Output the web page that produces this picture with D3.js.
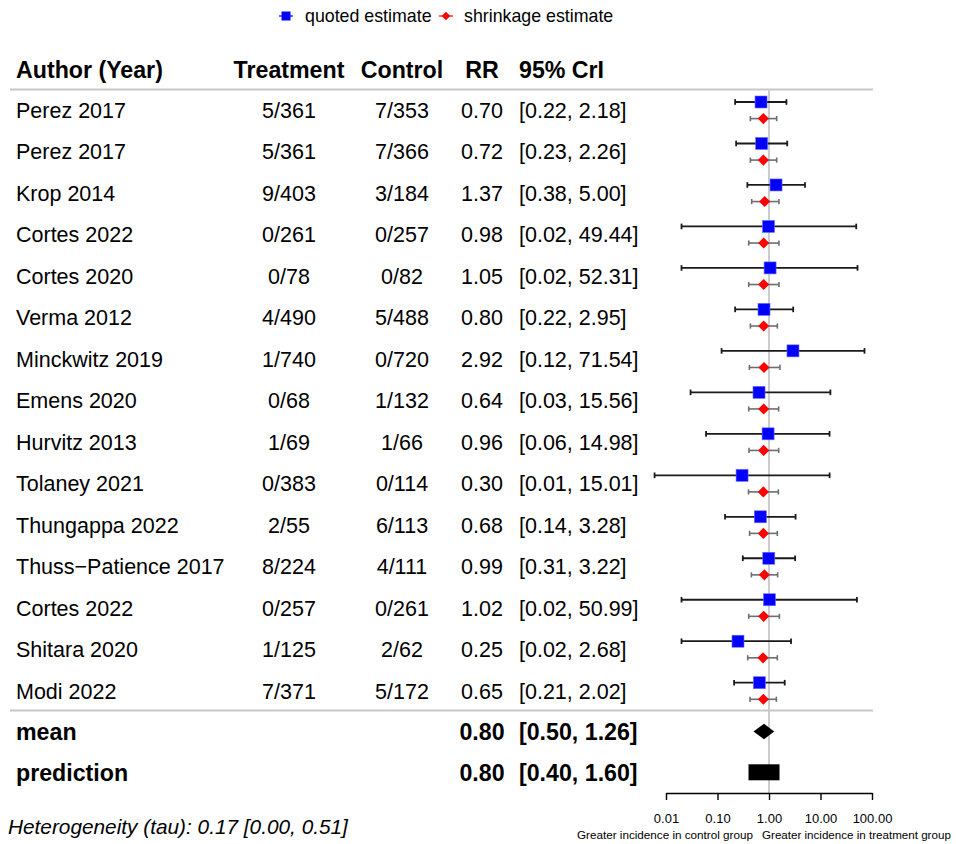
<!DOCTYPE html>
<html>
<head>
<meta charset="utf-8">
<script src="https://cdn.jsdelivr.net/npm/d3@7"></script>
<style>
	body { margin: 0; background: #fff; }
	svg text { font-family: "Liberation Sans", Arial, Helvetica, sans-serif; fill: #000; }
</style>
</head>
<body>
<div id="chart"></div>
<script>
//study level data
var authors = ["Perez 2017", "Perez 2017", "Krop 2014", "Cortes 2022", "Cortes 2020", "Verma 2012",
	"Minckwitz 2019", "Emens 2020", "Hurvitz 2013", "Tolaney 2021", "Thungappa 2022",
	"Thuss\u2212Patience 2017", "Cortes 2022", "Shitara 2020", "Modi 2022"];
var treatment = ["5/361", "5/361", "9/403", "0/261", "0/78", "4/490", "1/740", "0/68", "1/69",
	"0/383", "2/55", "8/224", "0/257", "1/125", "7/371"];
var control = ["7/353", "7/366", "3/184", "0/257", "0/82", "5/488", "0/720", "1/132", "1/66",
	"0/114", "6/113", "4/111", "0/261", "2/62", "5/172"];

//quoted estimate (blue)
var quotedRR = [0.70, 0.72, 1.37, 0.98, 1.05, 0.80, 2.92, 0.64, 0.96, 0.30, 0.68, 0.99, 1.02, 0.25, 0.65];
var quotedLo = [0.22, 0.23, 0.38, 0.02, 0.02, 0.22, 0.12, 0.03, 0.06, 0.006, 0.14, 0.31, 0.02, 0.02, 0.21];
var quotedHi = [2.18, 2.26, 5.00, 49.44, 52.31, 2.95, 71.54, 15.56, 14.98, 15.01, 3.28, 3.22, 50.99, 2.68, 2.02];

//shrinkage estimate (red)
var shrinkRR = [0.777, 0.777, 0.824, 0.788, 0.788, 0.788, 0.80, 0.788, 0.788, 0.777, 0.777, 0.812, 0.788, 0.765, 0.777];
var shrinkLo = [0.435, 0.435, 0.461, 0.404, 0.404, 0.435, 0.416, 0.404, 0.41, 0.40, 0.42, 0.455, 0.404, 0.386, 0.428];
var shrinkHi = [1.41, 1.41, 1.56, 1.56, 1.56, 1.45, 1.63, 1.54, 1.54, 1.52, 1.45, 1.47, 1.59, 1.45, 1.39];

//pooled rows
var summaryLabels = ["mean", "prediction"];
var summaryRR = [0.80, 0.80];
var summaryLo = [0.50, 0.40];
var summaryHi = [1.26, 1.60];

var tau = [0.17, 0.00, 0.51];

var headers = ["Author (Year)", "Treatment", "Control", "RR", "95% CrI"];
var tickValues = [0.01, 0.1, 1, 10, 100];
var captions = ["Greater incidence in control group", "Greater incidence in treatment group"];

//set globals
var width = 956,
	height = 844,
	fs = 21.5,
	fb = 23.2,
	f2 = d3.format(".2f");

var svg = d3.select("#chart").append("svg")
	.attr("width", width)
	.attr("height", height);

//scales
var x = d3.scaleLog().domain([0.01, 100]).range([666, 872]);
var y = d3.scaleLinear().domain([0, 14]).range([110.3, 691]);

//column positions
var col = {author: 16, treat: 289, ctrl: 402, rr: 482, ci: 519};

//header
var hy = 78;
svg.append("g").selectAll("text")
	.data(headers)
	.enter()
	.append("text")
	.attr("x", function(d, i){ return [col.author, col.treat, col.ctrl, col.rr, col.ci][i]; })
	.attr("y", hy)
	.attr("text-anchor", function(d, i){ return (i == 0 || i == 4) ? "start" : "middle"; })
	.style("font-size", fb + "px")
	.style("font-weight", "bold")
	.text(function(d){ return d; });

//rules
svg.append("line")
	.attr("x1", 10).attr("x2", 873)
	.attr("y1", y(-0.5)).attr("y2", y(-0.5))
	.attr("stroke", "#c8c8c8").attr("stroke-width", 2);
svg.append("line")
	.attr("x1", 10).attr("x2", 873)
	.attr("y1", 710.5).attr("y2", 710.5)
	.attr("stroke", "#c8c8c8").attr("stroke-width", 2);

//reference line at RR = 1
svg.append("line")
	.attr("x1", x(1)).attr("x2", x(1))
	.attr("y1", y(-0.5)).attr("y2", 793)
	.attr("stroke", "#cccccc").attr("stroke-width", 2);

//study rows text
var rows = svg.append("g").selectAll("g")
	.data(authors)
	.enter()
	.append("g")
	.attr("transform", function(d, i){ return "translate(0," + (y(i) + 7.7) + ")"; })
	.style("font-size", fs + "px");

rows.append("text").attr("x", col.author).text(function(d){ return d; });
rows.append("text").attr("x", col.treat).attr("text-anchor", "middle")
	.text(function(d, i){ return treatment[i]; });
rows.append("text").attr("x", col.ctrl).attr("text-anchor", "middle")
	.text(function(d, i){ return control[i]; });
rows.append("text").attr("x", col.rr).attr("text-anchor", "middle")
	.text(function(d, i){ return f2(quotedRR[i]); });
rows.append("text").attr("x", col.ci)
	.text(function(d, i){ return "[" + f2(quotedLo[i]) + ", " + f2(quotedHi[i]) + "]"; });

//error bar helper
function errorBars(g, lo, hi, yOff, color, cap, sw){
	g.append("line")
		.attr("x1", function(d, i){ return x(lo[i]); })
		.attr("x2", function(d, i){ return x(hi[i]); })
		.attr("y1", function(d, i){ return y(i) + yOff; })
		.attr("y2", function(d, i){ return y(i) + yOff; })
		.attr("stroke", color).attr("stroke-width", sw);
	[lo, hi].forEach(function(arr){
		g.append("line")
			.attr("x1", function(d, i){ return x(arr[i]); })
			.attr("x2", function(d, i){ return x(arr[i]); })
			.attr("y1", function(d, i){ return y(i) + yOff - cap; })
			.attr("y2", function(d, i){ return y(i) + yOff + cap; })
			.attr("stroke", color).attr("stroke-width", sw);
	});
}

var marks = svg.append("g").selectAll("g")
	.data(authors)
	.enter()
	.append("g");

//quoted: black whiskers and blue squares
errorBars(marks, quotedLo, quotedHi, -8.3, "#1a1a1a", 2.8, 1.8);
marks.append("rect")
	.attr("x", function(d, i){ return x(quotedRR[i]) - 6; })
	.attr("y", function(d, i){ return y(i) - 8.3 - 6; })
	.attr("width", 12).attr("height", 12)
	.attr("fill", "#0000ff")
	.attr("stroke", "#6b6bff").attr("stroke-width", 0.6);

//shrinkage: grey whiskers and red diamonds
errorBars(marks, shrinkLo, shrinkHi, 8.3, "#6e6e6e", 2.6, 1.6);
var diamond = d3.symbol().type(d3.symbolSquare).size(62);
marks.append("path")
	.attr("d", diamond)
	.attr("transform", function(d, i){ return "translate(" + x(shrinkRR[i]) + "," + (y(i) + 8.3) + ") rotate(45)"; })
	.attr("fill", "#ff0000");

//summary rows
var sy = [731.5, 772.3];
var summ = svg.append("g").selectAll("g")
	.data(summaryLabels)
	.enter()
	.append("g")
	.attr("transform", function(d, i){ return "translate(0," + (sy[i] + 8.2) + ")"; })
	.style("font-size", fb + "px")
	.style("font-weight", "bold");
summ.append("text").attr("x", col.author).text(function(d){ return d; });
summ.append("text").attr("x", col.rr).attr("text-anchor", "middle")
	.text(function(d, i){ return f2(summaryRR[i]); });
summ.append("text").attr("x", col.ci)
	.text(function(d, i){ return "[" + f2(summaryLo[i]) + ", " + f2(summaryHi[i]) + "]"; });

//mean diamond
svg.append("path")
	.attr("d", "M" + x(summaryLo[0]) + "," + sy[0] +
		"L" + x(summaryRR[0]) + "," + (sy[0] - 7.8) +
		"L" + x(summaryHi[0]) + "," + sy[0] +
		"L" + x(summaryRR[0]) + "," + (sy[0] + 7.8) + "Z")
	.attr("fill", "#000");

//prediction interval box
svg.append("rect")
	.attr("x", x(summaryLo[1]))
	.attr("y", sy[1] - 8)
	.attr("width", x(summaryHi[1]) - x(summaryLo[1]))
	.attr("height", 16)
	.attr("fill", "#000");

//x axis
var axis = svg.append("g")
	.attr("transform", "translate(0,793)")
	.call(d3.axisBottom(x)
		.tickValues(tickValues)
		.tickFormat(f2)
		.tickSize(7)
		.tickSizeOuter(0)
		.tickPadding(13.5));
axis.select(".domain").attr("stroke", "#000").attr("stroke-width", 1.4);
axis.selectAll(".tick line").attr("stroke", "#000").attr("stroke-width", 1.4);
axis.selectAll(".tick text")
	.style("font-size", "13px")
	.style("font-family", "'Liberation Sans', Arial, sans-serif");

//captions under axis
svg.append("text")
	.attr("x", x(1) - 16).attr("y", 839)
	.attr("text-anchor", "end")
	.style("font-size", "11.7px")
	.text(captions[0]);
svg.append("text")
	.attr("x", x(1) - 7).attr("y", 839)
	.style("font-size", "11.6px")
	.text(captions[1]);

//heterogeneity note
svg.append("text")
	.attr("x", 8).attr("y", 834)
	.style("font-size", "20.8px")
	.style("font-style", "italic")
	.text("Heterogeneity (tau): " + f2(tau[0]) + " [" + f2(tau[1]) + ", " + f2(tau[2]) + "]");

//legend
var legend = svg.append("g").attr("transform", "translate(0,16)");
legend.append("line").attr("x1", 279).attr("x2", 293).attr("y1", 0).attr("y2", 0)
	.attr("stroke", "#0000ff").attr("stroke-width", 1.2);
legend.append("rect").attr("x", 281.5).attr("y", -4.5).attr("width", 9).attr("height", 9)
	.attr("fill", "#0000ff");
legend.append("text").attr("x", 305).attr("y", 6).style("font-size", "17.8px")
	.text("quoted estimate");
legend.append("line").attr("x1", 439).attr("x2", 453).attr("y1", 0).attr("y2", 0)
	.attr("stroke", "#ff0000").attr("stroke-width", 1.2);
legend.append("path").attr("d", d3.symbol().type(d3.symbolSquare).size(36))
	.attr("transform", "translate(446,0) rotate(45)")
	.attr("fill", "#ff0000");
legend.append("text").attr("x", 464).attr("y", 6).style("font-size", "17.8px")
	.text("shrinkage estimate");
</script>
</body>
</html>
